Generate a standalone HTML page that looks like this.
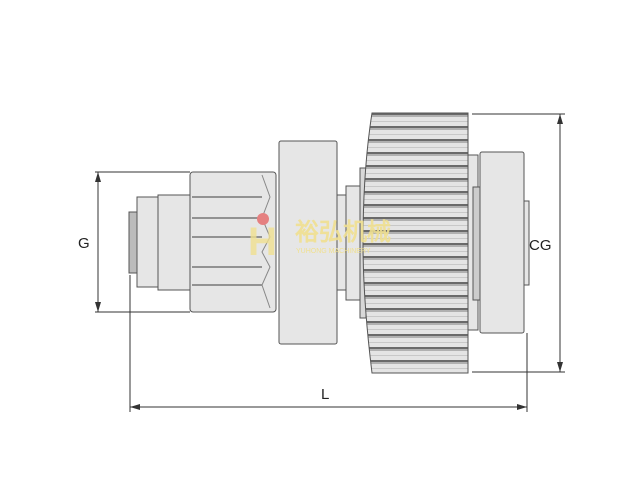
<!DOCTYPE html>
<html><head><meta charset="utf-8"><style>
html,body{margin:0;padding:0;background:#fff;width:640px;height:478px;overflow:hidden}
text{font-family:"Liberation Sans",sans-serif}
</style></head><body>
<svg width="640" height="478" viewBox="0 0 640 478" xmlns="http://www.w3.org/2000/svg">
<defs>
<pattern id="teeth" x="0" y="113" width="10" height="13" patternUnits="userSpaceOnUse">
<rect width="10" height="13" fill="#e4e4e4"/>
<rect y="0" width="10" height="2" fill="#6a6a6a"/>
<rect y="2" width="10" height="2" fill="#b0b0b0"/>
<rect y="8" width="10" height="1" fill="#c8c8c8"/>
</pattern>
</defs>
<g stroke="#555" stroke-width="1" fill="#e6e6e6">
<!-- front teeth -->
<rect x="129" y="212" width="9" height="61" fill="#bbb"/>
<!-- cap -->
<rect x="137" y="197" width="21" height="90"/>
<!-- ring -->
<rect x="158" y="195" width="32" height="95"/>
<!-- pinion -->
<rect x="190" y="172" width="86" height="140" rx="3"/>
<!-- big collar -->
<rect x="279" y="141" width="58" height="203" rx="2"/>
<!-- shaft -->
<rect x="337" y="195" width="11" height="95"/>
<rect x="346" y="186" width="19" height="114"/>
<rect x="360" y="168" width="6" height="150" fill="#d8d8d8"/>
<!-- big gear -->
<path d="M372 113 H468 V373 H372 Q363 300 363 243 Q363 170 372 113 Z" fill="url(#teeth)"/>
<!-- thin disc -->
<rect x="468" y="155" width="10" height="175"/>
<rect x="473" y="187" width="8" height="113" fill="#ccc"/>
<!-- right collar -->
<rect x="480" y="152" width="44" height="181" rx="2"/>
<rect x="524" y="201" width="5" height="84"/>
</g>
<!-- pinion stripes -->
<g stroke="#777" stroke-width="1.5">
<line x1="192" y1="197" x2="262" y2="197"/>
<line x1="192" y1="218" x2="262" y2="218"/>
<line x1="192" y1="237" x2="262" y2="237"/>
<line x1="192" y1="267" x2="262" y2="267"/>
<line x1="192" y1="285" x2="262" y2="285"/>
</g>
<g stroke="#888" fill="none">
<path d="M262 175 L270 197 L262 218 L270 237 L262 252 L270 267 L262 285 L270 308"/>
</g>
<!-- watermark -->
<circle cx="263" cy="219" r="6" fill="#e58080"/>
<text x="248" y="255" font-size="40" fill="#f0e090" opacity="0.8" font-weight="bold">H</text>
<text x="295" y="240" font-size="24" fill="#f0e090" font-family="Noto Sans CJK SC,sans-serif" font-weight="bold" opacity="0.9">裕弘机械</text>
<text x="296" y="253" font-size="7" fill="#f0e090">YUHONG MACHINERY</text>
<!-- dimension lines -->
<g stroke="#333" stroke-width="1" fill="none">
<line x1="95" y1="172" x2="190" y2="172"/>
<line x1="95" y1="312" x2="190" y2="312"/>
<line x1="98" y1="172" x2="98" y2="312"/>
<line x1="472" y1="114" x2="565" y2="114"/>
<line x1="472" y1="372" x2="565" y2="372"/>
<line x1="560" y1="114" x2="560" y2="372"/>
<line x1="130" y1="275" x2="130" y2="412"/>
<line x1="527" y1="333" x2="527" y2="412"/>
<line x1="130" y1="407" x2="527" y2="407"/>
</g>
<g fill="#333">
<path d="M98 172 l-3 10 h6z"/><path d="M98 312 l-3 -10 h6z"/>
<path d="M560 114 l-3 10 h6z"/><path d="M560 372 l-3 -10 h6z"/>
<path d="M130 407 l10 -3 v6z"/><path d="M527 407 l-10 -3 v6z"/>
</g>
<text x="78" y="248" font-size="15" fill="#222">G</text>
<text x="529" y="250" font-size="15" fill="#222">CG</text>
<text x="321" y="399" font-size="15" fill="#222">L</text>
</svg>
</body></html>
